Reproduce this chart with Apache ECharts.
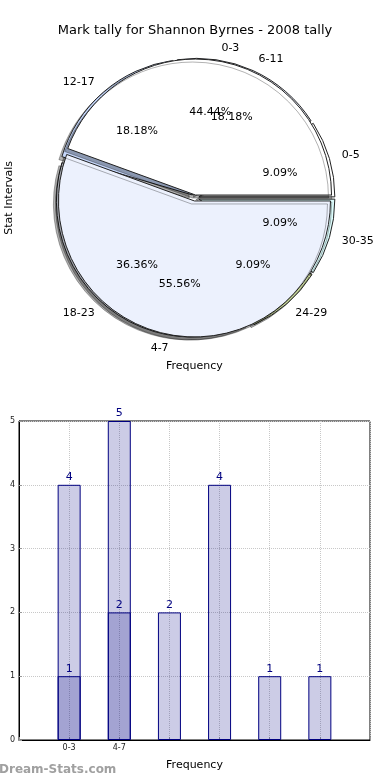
<!DOCTYPE html>
<html>
<head>
<meta charset="utf-8">
<script src="https://cdn.jsdelivr.net/npm/echarts@6/dist/echarts.min.js"></script>
<style>
html,body{margin:0;padding:0;background:#fff;}
#c{width:390px;height:780px;}
</style>
</head>
<body>
<div id="c"></div>
<script>
// ---- data ----
const titleText = 'Mark tally for Shannon Byrnes - 2008 tally';
const pieCatsA = ['0-3', '4-7'];
const pieValsA = [4, 5];
const pieCatsB = ['0-5', '6-11', '12-17', '18-23', '24-29', '30-35'];
const pieValsB = [1, 2, 2, 4, 1, 1];
const barPosA = [0, 1];
const barValsA = [4, 5];
const barPosB = [0, 1, 2, 3, 4, 5];
const barValsB = [1, 2, 2, 4, 1, 1];
const xTickLabels = ['0-3', '4-7'];
const yTicks = [0, 1, 2, 3, 4, 5];

// ---- style ----
const FONT = 'DejaVu Sans';
const colorsA = ['#ffffff', '#ecf1fd'];
const colorsB = ['#ffffff', '#ecf1fd', '#c6d8fc', '#ecf1fd', '#c9d89c', '#dcfcfc'];
const PIE_C = [195, 198];
const R = 136;

function pieData(cats, vals, colors) {
  return cats.map((c, i) => ({
    name: c, value: vals[i], selected: true,
    itemStyle: { color: colors[i] }
  }));
}
function labelPieData(cats, vals) {
  return cats.map((c, i) => ({ name: c, value: vals[i], selected: true }));
}

const mainPie = (id, cats, vals, colors, offset) => ({
  type: 'pie', id: id,
  center: PIE_C, radius: [0, R],
  startAngle: 0, clockwise: false,
  selectedMode: 'multiple', selectedOffset: offset,
  avoidLabelOverlap: false, silent: true,
  animation: false,
  labelLayout: { hideOverlap: false },
  itemStyle: {
    borderColor: '#222', borderWidth: 1,
    shadowColor: 'rgba(0,0,0,0.3)', shadowBlur: 0, shadowOffsetX: -3, shadowOffsetY: 3
  },
  label: {
    show: true, position: 'outside', formatter: '{b}',
    fontFamily: FONT, fontSize: 11, color: '#000', distanceToLabelLine: 0
  },
  labelLine: { show: false, length: 13, length2: 0 },
  emphasis: { disabled: true },
  data: pieData(cats, vals, colors)
});

const pctPie = (id, cats, vals, offset) => {
  const total = vals.reduce((a, b) => a + b, 0);
  return {
    type: 'pie', id: id,
    center: PIE_C, radius: [0, R * 1.2],
    startAngle: 0, clockwise: false,
    selectedMode: 'multiple', selectedOffset: offset,
    avoidLabelOverlap: false, silent: true, animation: false,
    labelLayout: { hideOverlap: false },
    itemStyle: { color: 'rgba(0,0,0,0)', borderWidth: 0 },
    label: {
      show: true, position: 'inside',
      formatter: p => (p.value / total * 100).toFixed(2) + '%',
      fontFamily: FONT, fontSize: 11, color: '#000'
    },
    labelLine: { show: false },
    emphasis: { disabled: true },
    data: labelPieData(cats, vals)
  };
};

const barLabel = {
  show: true, position: 'top', distance: 2, formatter: p => p.value[1],
  fontFamily: FONT, fontSize: 11, color: '#000080'
};

const chart = echarts.init(document.getElementById('c'), null, { renderer: 'canvas' });
chart.setOption({
  animation: false,
  backgroundColor: '#fff',
  textStyle: { fontFamily: FONT },
  title: {
    text: titleText, left: 'center', top: 19,
    textStyle: { fontFamily: FONT, fontSize: 13, fontWeight: 'normal', color: '#000' }
  },
  graphic: [
    { type: 'text', left: 4, top: 161, rotation: Math.PI / 2,
      style: { text: 'Stat Intervals', font: '11px "DejaVu Sans"', fill: '#000' } },
    { type: 'text', left: 166, top: 361,
      style: { text: 'Frequency', font: '11px "DejaVu Sans"', fill: '#000' } },
    { type: 'text', left: -1, top: 764,
      style: { text: 'Dream-Stats.com', font: 'bold 12px "DejaVu Sans"', fill: '#a0a0a0' } }
  ],
  grid: {
    left: 19, right: 20, top: 421, bottom: 40,
    show: true, borderColor: '#000', borderWidth: 1, backgroundColor: 'transparent'
  },
  xAxis: {
    type: 'value', min: -1, max: 6, interval: 1,
    name: 'Frequency', nameLocation: 'middle', nameGap: 20,
    nameTextStyle: { fontFamily: FONT, fontSize: 11, color: '#000' },
    axisLine: { show: true, onZero: false, lineStyle: { color: '#000' } },
    axisTick: { show: true, inside: true, length: 3, lineStyle: { color: '#999' } },
    axisLabel: {
      fontFamily: FONT, fontSize: 8, color: '#222', margin: 4,
      formatter: v => (v >= 0 && v < xTickLabels.length) ? xTickLabels[v] : ''
    },
    splitLine: { show: true, lineStyle: { color: '#c8c8c8', type: 'dotted', width: 1 } }
  },
  yAxis: {
    type: 'value', min: yTicks[0], max: yTicks[yTicks.length - 1], interval: 1,
    axisLine: { show: true, onZero: false, lineStyle: { color: '#000' } },
    axisTick: { show: true, inside: true, length: 3, lineStyle: { color: '#999' } },
    axisLabel: { fontFamily: FONT, fontSize: 8, color: '#222', margin: 4 },
    splitLine: { show: true, lineStyle: { color: '#c8c8c8', type: 'dotted', width: 1 } }
  },
  series: [
    mainPie('pieB', pieCatsB, pieValsB, colorsB, 4),
    mainPie('pieA', pieCatsA, pieValsA, colorsA, 3),
    pctPie('pctB', pieCatsB, pieValsB, 4),
    pctPie('pctA', pieCatsA, pieValsA, 3),
    {
      type: 'bar', barWidth: 23, barGap: '-100%',
      data: barPosA.map((p, i) => [p, barValsA[i]]),
      itemStyle: { color: 'rgba(0,0,128,0.2)', borderColor: '#000080', borderWidth: 1 },
      label: barLabel, silent: true
    },
    {
      type: 'bar', barWidth: 23, barGap: '-100%',
      data: barPosB.map((p, i) => [p, barValsB[i]]),
      itemStyle: { color: 'rgba(0,0,128,0.2)', borderColor: '#000080', borderWidth: 1 },
      label: barLabel, silent: true
    }
  ]
});
</script>
</body>
</html>
